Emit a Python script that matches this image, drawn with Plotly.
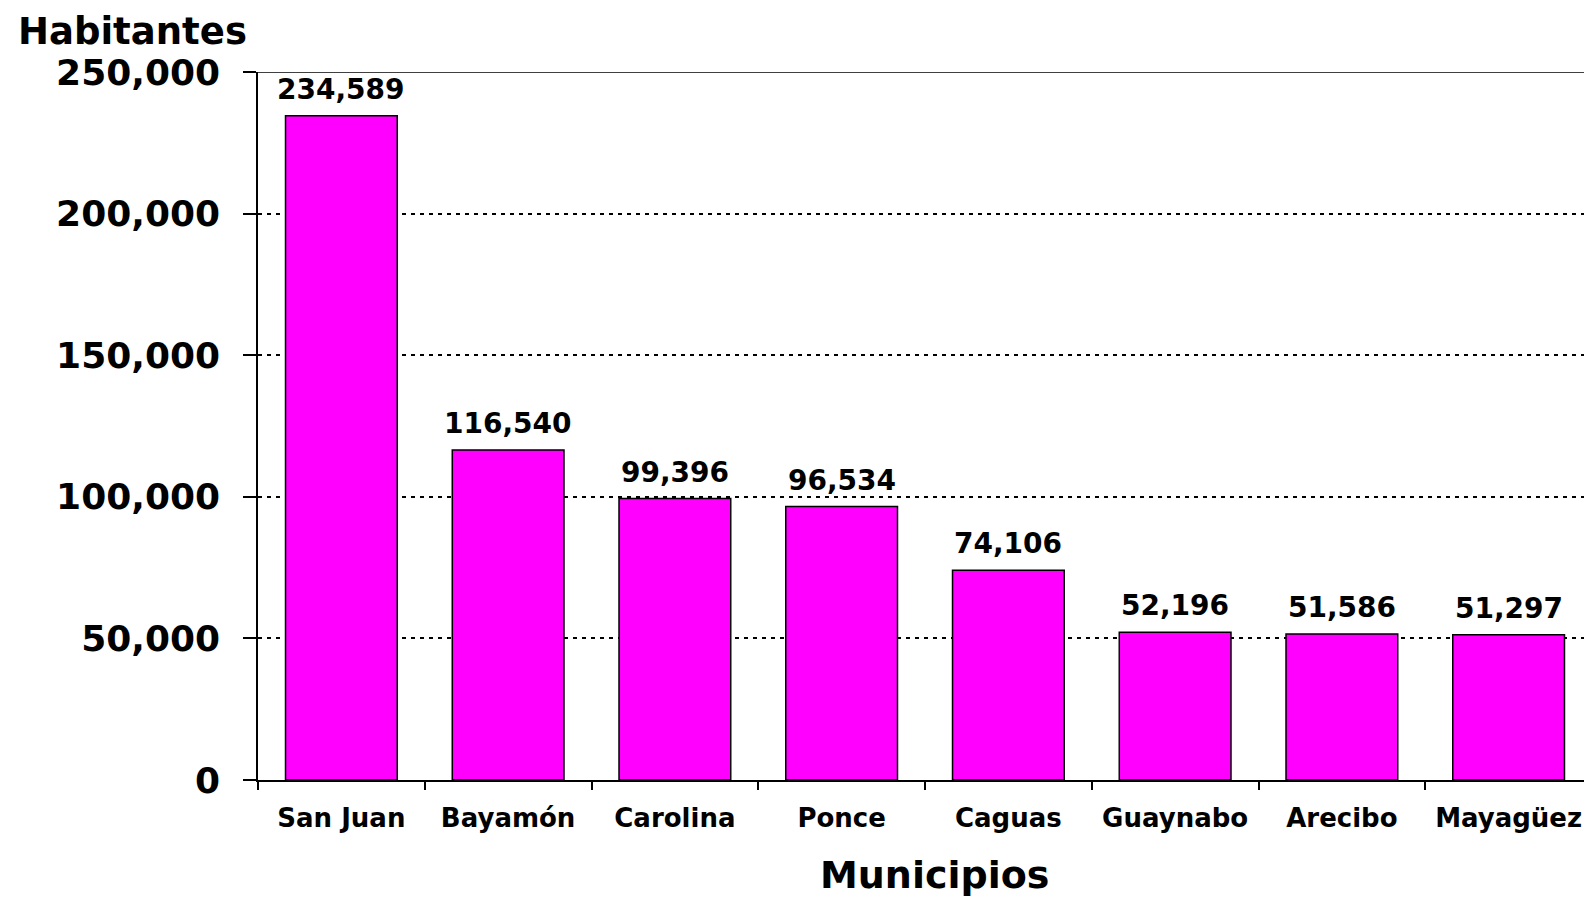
import plotly.graph_objects as go

# Population by municipality
municipios = ["San Juan", "Bayamón", "Carolina", "Ponce", "Caguas",
              "Guaynabo", "Arecibo", "Mayagüez"]
habitantes = [234589, 116540, 99396, 96534, 74106, 52196, 51586, 51297]
y_ticks = [0, 50000, 100000, 150000, 200000, 250000]

FONT = "DejaVu Sans, Verdana, sans-serif"

fig = go.Figure()
fig.add_trace(go.Bar(
    x=municipios,
    y=habitantes,
    marker=dict(color="#FF00FF", line=dict(color="black", width=1.5)),
    width=0.67,
    hoverinfo="x+y",
))

# value labels above bars
for m, v in zip(municipios, habitantes):
    fig.add_annotation(
        x=m, y=v, text=f"{v:,}", showarrow=False,
        yanchor="bottom", yshift=8,
        font=dict(family=FONT, size=28, color="black", weight="bold"),
    )

# axis titles
fig.add_annotation(
    xref="paper", yref="paper", x=-0.094, y=1.0904,
    xanchor="center", yanchor="top", text="Habitantes", showarrow=False,
    font=dict(family=FONT, size=37, color="black", weight="bold"),
)
fig.add_annotation(
    xref="paper", yref="paper", x=0.507, y=-0.134,
    xanchor="center", yanchor="middle", text="Municipios", showarrow=False,
    font=dict(family=FONT, size=38, color="black", weight="bold"),
)

# solid top border
fig.add_shape(type="line", xref="paper", yref="y", x0=0, x1=1,
              y0=250000, y1=250000, line=dict(color="black", width=1.5))

# page body adds an 8px margin, so the figure is made smaller
fig.update_layout(
    width=1584, height=890,
    margin=dict(l=250, r=0, t=64, b=118),
    paper_bgcolor="white", plot_bgcolor="white",
    showlegend=False,
    font=dict(family=FONT, color="black"),
)
fig.update_xaxes(
    showline=True, linecolor="black", linewidth=1.5,
    ticks="outside", tickson="boundaries", ticklen=8,
    tickcolor="black", tickwidth=1.5,
    tickfont=dict(family=FONT, size=26, color="black", weight="bold"),
    ticklabelstandoff=14,
    showgrid=False,
)
fig.update_yaxes(
    range=[0, 250000], tickvals=y_ticks, tickformat=",",
    showline=True, linecolor="black", linewidth=1.5,
    ticks="outside", ticklen=13, tickcolor="black", tickwidth=1.5,
    tickfont=dict(family=FONT, size=36, color="black", weight="bold"),
    ticklabelstandoff=16,
    showgrid=True, gridcolor="black", gridwidth=1.5, griddash="4px,5px",
    zeroline=False,
)

fig.write_html("out.html")
